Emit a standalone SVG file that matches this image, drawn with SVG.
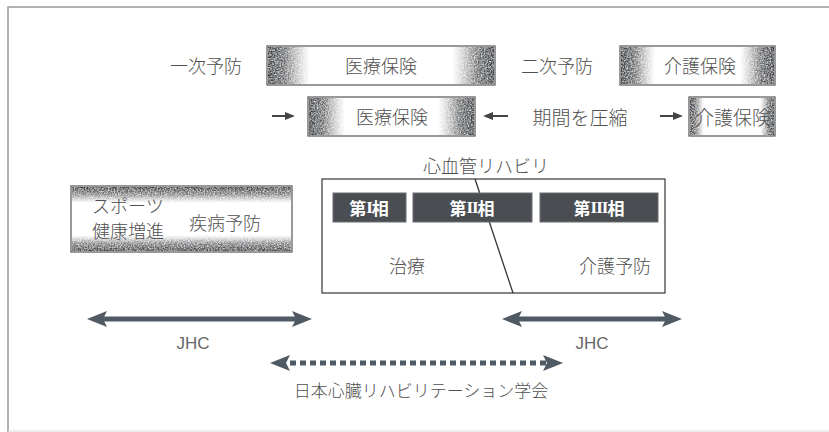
<svg xmlns="http://www.w3.org/2000/svg" width="829" height="432" viewBox="0 0 829 432">
<style>
  .t { font-family: "Noto Sans CJK JP", "Noto Sans", sans-serif; fill: #505050; font-size: 18px; font-weight: 300; dominant-baseline: central; }
  .c { text-anchor: middle; }
  .ph { font-family: "Noto Sans CJK JP", sans-serif; fill: #fff; font-size: 17px; font-weight: 700; text-anchor: middle; dominant-baseline: central; }
  .rn { font-family: "Liberation Serif", "DejaVu Serif", serif; font-weight: 700; letter-spacing: -1px; }
  .lat { font-family: "Liberation Sans", "Noto Sans", sans-serif; fill: #666; font-size: 17px; text-anchor: middle; dominant-baseline: central; }
  .box { fill: #fff; stroke: #555; stroke-width: 1.2; }
  .edgeL { fill: url(#gL); filter: url(#grain); }
  .edgeR { fill: url(#gR); filter: url(#grain); }
  .edgeT { fill: url(#gT); filter: url(#grain); }
  .edgeB { fill: url(#gB); filter: url(#grain); }
  .phase { fill: #4a4e53; stroke: #6a6e72; stroke-width: 1; }
  .big { fill: #fff; stroke: #444; stroke-width: 1.3; }
  .arw { stroke: #505a64; stroke-width: 5; fill: none; marker-start: url(#ah); marker-end: url(#ah); }
  .dash { stroke-dasharray: 6 4; }
  .sm { stroke: #444; stroke-width: 2; fill: none; marker-end: url(#sah); }
</style>
<defs>
  <linearGradient id="gL" x1="0" y1="0" x2="1" y2="0">
    <stop offset="0" stop-color="#383b3e" stop-opacity="1"/>
    <stop offset="0.4" stop-color="#4a4d50" stop-opacity="0.85"/>
    <stop offset="1" stop-color="#888" stop-opacity="0"/>
  </linearGradient>
  <linearGradient id="gR" x1="1" y1="0" x2="0" y2="0">
    <stop offset="0" stop-color="#383b3e" stop-opacity="1"/>
    <stop offset="0.4" stop-color="#4a4d50" stop-opacity="0.85"/>
    <stop offset="1" stop-color="#888" stop-opacity="0"/>
  </linearGradient>
  <linearGradient id="gT" x1="0" y1="0" x2="0" y2="1">
    <stop offset="0" stop-color="#383b3e" stop-opacity="1"/>
    <stop offset="0.5" stop-color="#4a4d50" stop-opacity="0.7"/>
    <stop offset="1" stop-color="#888" stop-opacity="0"/>
  </linearGradient>
  <linearGradient id="gB" x1="0" y1="1" x2="0" y2="0">
    <stop offset="0" stop-color="#383b3e" stop-opacity="1"/>
    <stop offset="0.5" stop-color="#4a4d50" stop-opacity="0.7"/>
    <stop offset="1" stop-color="#888" stop-opacity="0"/>
  </linearGradient>
  <filter id="grain" x="0" y="0" width="1" height="1">
    <feTurbulence type="fractalNoise" baseFrequency="0.7" numOctaves="2" seed="4" result="n"/>
    <feColorMatrix in="n" type="matrix" values="0 0 0 0 0  0 0 0 0 0  0 0 0 0 0  0 0 0 1.6 -0.1" result="na"/>
    <feComposite in="SourceGraphic" in2="na" operator="in"/>
  </filter>
  <marker id="ah" viewBox="0 0 20 16" refX="10" refY="8" markerWidth="20" markerHeight="16" markerUnits="userSpaceOnUse" orient="auto-start-reverse">
    <path d="M0,0 L20,8 L0,16 L4,8 z" fill="#505a64"/>
  </marker>
  <marker id="sah" viewBox="0 0 10 8" refX="4" refY="4" markerWidth="10" markerHeight="8" markerUnits="userSpaceOnUse" orient="auto">
    <path d="M0,0 L10,4 L0,8 z" fill="#444"/>
  </marker>
</defs>

<rect x="0" y="0" width="829" height="432" fill="#fff"/>
<path d="M8,432 L8,7 L829,7" fill="none" stroke="#999" stroke-width="1.5"/>
<line x1="8" y1="431" x2="829" y2="431" stroke="#ddd" stroke-width="1"/>

<g id="label-primary"><text class="t c" x="206" y="65">一次予防</text></g>
<g id="ins-medical-1">
  <rect class="box" x="267" y="46" width="228" height="39"/>
  <rect class="edgeL" x="268" y="47" width="42" height="37"/>
  <rect class="edgeR" x="452" y="47" width="42" height="37"/>
  <text class="t c" x="381" y="65">医療保険</text>
</g>
<g id="label-secondary"><text class="t c" x="557" y="65">二次予防</text></g>
<g id="ins-care-1">
  <rect class="box" x="620" y="46" width="155" height="39"/>
  <rect class="edgeL" x="621" y="47" width="34" height="37"/>
  <rect class="edgeR" x="740" y="47" width="34" height="37"/>
  <text class="t c" x="700" y="65">介護保険</text>
</g>

<g id="ins-medical-2">
  <rect class="box" x="308" y="97" width="167" height="39"/>
  <rect class="edgeL" x="309" y="98" width="36" height="37"/>
  <rect class="edgeR" x="438" y="98" width="36" height="37"/>
  <text class="t c" x="392" y="116">医療保険</text>
</g>
<g id="label-compress"><text class="t c" x="580" y="116" style="font-size:19px">期間を圧縮</text></g>
<g id="ins-care-2">
  <rect class="box" x="689" y="97" width="86" height="39"/>
  <rect class="edgeL" x="690" y="98" width="14" height="37"/>
  <rect class="edgeR" x="760" y="98" width="14" height="37"/>
  <text class="t c" x="733" y="116" style="font-size:19px">介護保険</text>
</g>

<g id="health-box">
  <rect class="box" x="71" y="186" width="221" height="66"/>
  <rect class="edgeT" x="72" y="187" width="219" height="16"/>
  <rect class="edgeB" x="72" y="235" width="219" height="16"/>
  <text class="t" x="92" y="205">スポーツ</text>
  <text class="t" x="92" y="230">健康増進</text>
  <text class="t" x="189" y="222">疾病予防</text>
</g>

<g id="cardiac-rehab">
  <text class="t c" x="486" y="165">心血管リハビリ</text>
  <rect class="big" x="322" y="179" width="343" height="114"/>
  <line x1="475" y1="179" x2="513" y2="293" stroke="#333" stroke-width="1.3"/>
  <text class="t c" x="407" y="265">治療</text>
  <text class="t c" x="615" y="265">介護予防</text>
</g>
<g id="phase-1">
  <rect class="phase" x="333" y="193" width="73" height="29"/>
  <text class="ph" x="369" y="207">第<tspan class="rn">I</tspan>相</text>
</g>
<g id="phase-2">
  <rect class="phase" x="413" y="193" width="119" height="29"/>
  <text class="ph" x="472" y="207">第<tspan class="rn">II</tspan>相</text>
</g>
<g id="phase-3">
  <rect class="phase" x="540" y="193" width="118" height="29"/>
  <text class="ph" x="599" y="207">第<tspan class="rn">III</tspan>相</text>
</g>

<g id="connectors">
  <line class="sm" x1="272" y1="116" x2="289" y2="116"/>
  <line class="sm" x1="508" y1="116" x2="489" y2="116"/>
  <line class="sm" x1="660" y1="116" x2="677" y2="116"/>
  <line class="arw" x1="97" y1="319" x2="302" y2="319"/>
  <line class="arw" x1="512" y1="319" x2="672" y2="319"/>
  <line class="arw dash" x1="280" y1="363" x2="553" y2="363"/>
</g>

<g id="label-jhc-1"><text class="lat" x="193" y="343">JHC</text></g>
<g id="label-jhc-2"><text class="lat" x="592" y="343">JHC</text></g>
<g id="label-society"><text class="t c" x="421" y="389" style="font-size:17px">日本心臓リハビリテーション学会</text></g>
</svg>
